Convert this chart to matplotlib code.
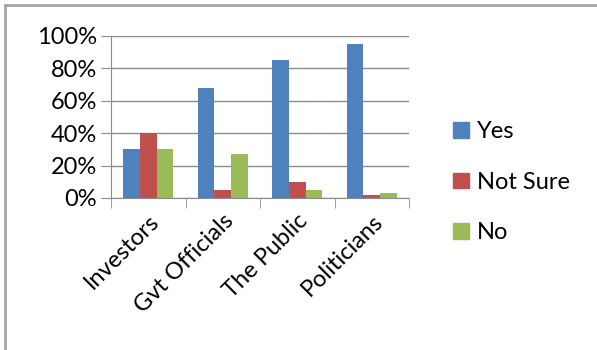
import numpy as np
import matplotlib
matplotlib.use('agg')
import matplotlib.pyplot as plt
from matplotlib.lines import Line2D

categories = ['Investors', 'Gvt Officials', 'The Public', 'Politicians']
series_names = ['Yes', 'Not Sure', 'No']
yes = [30, 68, 85, 95]
not_sure = [40, 5, 10, 2]
no = [30, 27, 5, 3]
colors = ['#4F81BD', '#C0504D', '#9BBB59']

plt.rcParams['font.family'] = ['Lato', 'DejaVu Sans']

fig = plt.figure(figsize=(5.97, 3.5), dpi=100)
ax = fig.add_axes([111/597, 1 - 198/350, 298/597, 162/350])

x = np.arange(len(categories))
w = 0.225
for i, (vals, name) in enumerate(zip([yes, not_sure, no], series_names)):
    ax.bar(x + (i - 1) * w, vals, w, color=colors[i], label=name,
           edgecolor='none', zorder=3)

ax.set_xlim(-0.5, len(categories) - 0.5)
ax.set_ylim(0, 100)
ax.set_yticks(range(0, 101, 20))
ax.set_yticklabels(['%d%%' % v for v in range(0, 101, 20)], fontsize=17)
ax.yaxis.grid(True, color='#8c8c8c', linewidth=1.0, zorder=0)

ax.set_xticks(x)
ax.set_xticklabels(categories, fontsize=17, rotation=45, ha='right',
                   rotation_mode='anchor')
ax.set_xticks(np.arange(-0.5, len(categories)), minor=True)
ax.tick_params(axis='x', which='major', length=0, pad=9)
ax.tick_params(axis='x', which='minor', length=7, color='#8c8c8c')
ax.tick_params(axis='y', length=7, color='#8c8c8c', pad=3)

for s in ['top', 'right']:
    ax.spines[s].set_visible(False)
for s in ['left', 'bottom']:
    ax.spines[s].set_color('#8c8c8c')
    ax.spines[s].set_zorder(4)

handles = [plt.Rectangle((0, 0), 1, 1, color=c) for c in colors]
fig.legend(handles, series_names, loc='upper left',
           bbox_to_anchor=(432/597, 1 - 100/350), frameon=False,
           fontsize=17, handlelength=0.65, handleheight=0.65,
           handletextpad=0.35, labelspacing=1.25)

# outer frame (top and left edges visible)
fig.add_artist(Line2D([5/597, 1], [1 - 5/350, 1 - 5/350],
                      transform=fig.transFigure, color='#a6a6a6', lw=2))
fig.add_artist(Line2D([5/597, 5/597], [0, 1 - 5/350],
                      transform=fig.transFigure, color='#a6a6a6', lw=2))

fig.savefig('out.png', dpi=100)
